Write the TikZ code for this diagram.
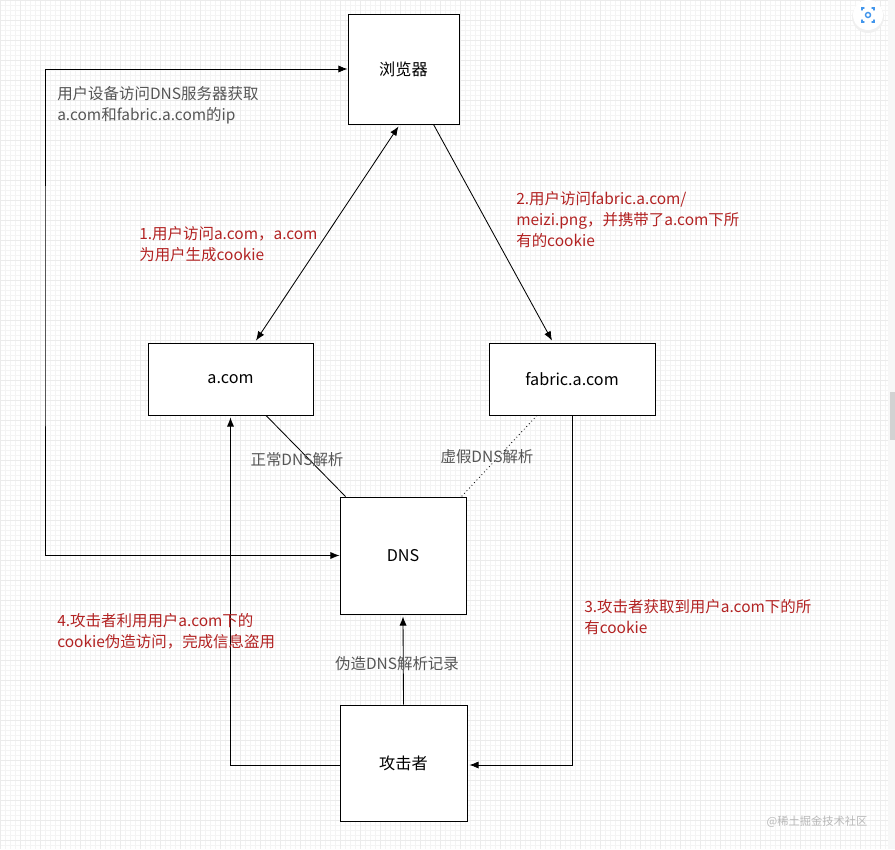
\documentclass[tikz,border=0pt]{standalone}
\usepackage{fontspec}
\setmainfont{Noto Sans CJK SC}
\usetikzlibrary{arrows.meta, calc}

\definecolor{notered}{RGB}{178,34,34}
\definecolor{notegray}{RGB}{85,85,85}
\definecolor{iconblue}{RGB}{66,150,236}

\tikzset{
  box/.style={draw, fill=white, line width=0.6pt, font=\fontsize{11.5}{14}\selectfont},
  link/.style={line width=0.6pt, -{Latex[length=2.3mm, width=1.8mm]}},
  twoway/.style={line width=0.6pt, {Latex[length=2.3mm, width=1.8mm]}-{Latex[length=2.3mm, width=1.8mm]}},
  note/.style={anchor=north west, inner sep=0pt, align=left, font=\fontsize{11}{14.9}\selectfont},
}

\begin{document}
\begin{tikzpicture}[x=0.025cm, y=-0.025cm]
\useasboundingbox (0,0) rectangle (895,849);
\fill[white] (0,0) rectangle (895,849);
% background grid
\foreach \i in {0,5,...,885} \draw[gray!9, line width=0.3pt] (\i,0) -- (\i,849);
\foreach \j in {0,5,...,845} \draw[gray!9, line width=0.3pt] (0,\j) -- (888,\j);
\foreach \i in {0,20,...,880} \draw[gray!16, line width=0.3pt] (\i,0) -- (\i,849);
\foreach \j in {0,20,...,840} \draw[gray!16, line width=0.3pt] (0,\j) -- (888,\j);
\fill[gray!6] (888,0) rectangle (895,849);
\fill[gray!35] (890,392) rectangle (895,440);

\node[box, minimum width=2.775cm, minimum height=2.75cm] (browser) at (403.5,69) {浏览器};
\node[box, minimum width=4.125cm, minimum height=1.8cm] (acom) at (230.5,379) {a.com};
\node[box, minimum width=4.15cm, minimum height=1.8cm] (fabric) at (572,379) {fabric.a.com};
\node[box, minimum width=3.15cm, minimum height=2.925cm] (dns) at (403,555.5) {DNS};
\node[box, minimum width=3.175cm, minimum height=2.9cm] (attacker) at (403.5,763) {攻击者};

\coordinate (loop) at (45,300);
\draw[twoway] (browser.west) -| (loop) |- (dns.west);
\draw[twoway] ($(browser.south)+(-5,2)$) -- ($(acom.north)+(25.5,-2)$);
\draw[link] ($(browser.south)+(30,0)$) -- ($(fabric.north)+(-20,-2)$);
\draw[line width=0.6pt] ($(acom.south)+(35.5,0)$) -- ($(dns.north west)+(6,0)$);
\draw[line width=0.6pt, dotted] ($(fabric.south)+(-35,0)$) -- ($(dns.north east)+(-5,0)$);
\draw[link] (fabric.south) |- ($(attacker.east)+(2,2)$);
\draw[link] ($(attacker.west)+(0,2)$) -| ($(acom.south)+(0,2)$);
\draw[link] (attacker.north) -- ($(dns.south)+(0,2)$);

\node[note, text=notegray] (devnote) at (57,86) {用户设备访问DNS服务器获取\\a.com和fabric.a.com的ip};
\node[note, text=notered] (step1) at (139,226) {1.用户访问a.com，a.com\\为用户生成cookie};
\node[note, text=notered] (step2) at (516,191) {2.用户访问fabric.a.com/\\meizi.png，并携带了a.com下所\\有的cookie};
\node[note, text=notered] (step3) at (584,599) {3.攻击者获取到用户a.com下的所\\有cookie};
\node[note, text=notered] (step4) at (57,613) {4.攻击者利用用户a.com下的\\cookie伪造访问，完成信息盗用};
\node[text=notegray, font=\fontsize{11}{13}\selectfont] (normal) at (297,460) {正常DNS解析};
\node[text=notegray, font=\fontsize{11}{13}\selectfont] (fake) at (487,457) {虚假DNS解析};
\node[text=notegray, font=\fontsize{11}{13}\selectfont] (forge) at (397,664) {伪造DNS解析记录};
\node[text=gray!55, font=\fontsize{8}{10}\selectfont] (mark) at (817,822) {@稀土掘金技术社区};

% corner icon
\fill[gray!12] (868,17) circle (16);
\fill[white] (868,15) circle (15);
\draw[iconblue, line width=1pt, line cap=round] (862,10) -- (862,8) -- (864,8) (872,8) -- (874,8) -- (874,10)
  (874,20) -- (874,22) -- (872,22) (864,22) -- (862,22) -- (862,20);
\draw[iconblue, line width=1pt] (868,15) circle (2.5);
\end{tikzpicture}
\end{document}
